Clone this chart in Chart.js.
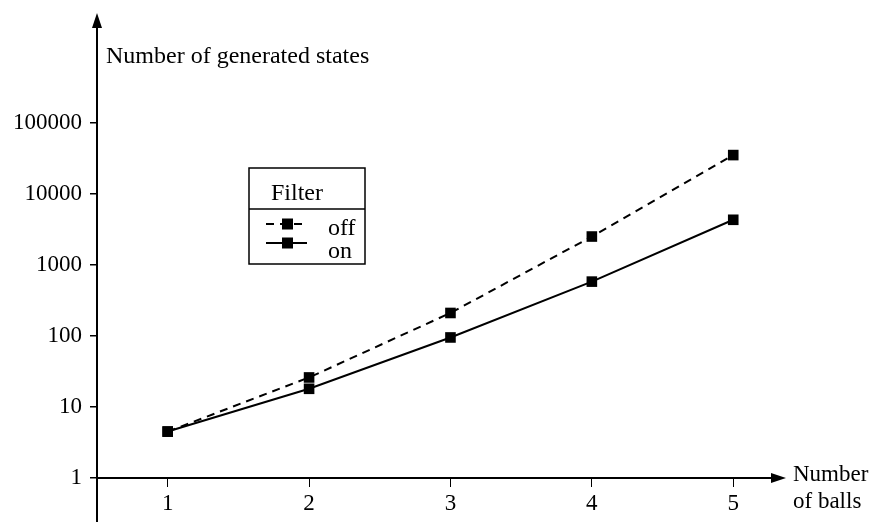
<!DOCTYPE html>
<html>
<head>
<meta charset="utf-8">
<script src="https://cdn.jsdelivr.net/npm/chart.js@4"></script>
<style>
  body { margin: 0; background: #fff; }
  canvas { display: block; }
</style>
</head>
<body>
<canvas id="states" width="875" height="522"></canvas>
<script>
const balls = [1, 2, 3, 4, 5];
const statesOff = [4.5, 26, 210, 2500, 35000];
const statesOn = [4.5, 18, 95, 580, 4300];
const yTicks = [1, 10, 100, 1000, 10000, 100000];
const yTitle = 'Number of generated states';
const xTitle = ['Number', 'of balls'];
const legendTitle = 'Filter';

const serif = '"Liberation Serif", "Times New Roman", serif';
const font = { family: serif, size: 23 };

// arrows, axis extension, titles and the boxed legend
const decor = {
    id: 'decor',
    afterDraw(chart) {
        const ctx = chart.ctx;
        const area = chart.chartArea;
        ctx.save();
        ctx.fillStyle = '#000';
        ctx.strokeStyle = '#000';

        // y axis continues below the x axis
        ctx.lineWidth = 2;
        ctx.beginPath();
        ctx.moveTo(area.left, area.bottom);
        ctx.lineTo(area.left, chart.height);
        ctx.stroke();

        // arrow heads
        ctx.beginPath();
        ctx.moveTo(area.left, area.top - 14);
        ctx.lineTo(area.left - 5, area.top + 1);
        ctx.lineTo(area.left + 5, area.top + 1);
        ctx.closePath();
        ctx.fill();
        ctx.beginPath();
        ctx.moveTo(area.right + 16, area.bottom);
        ctx.lineTo(area.right + 1, area.bottom - 5);
        ctx.lineTo(area.right + 1, area.bottom + 5);
        ctx.closePath();
        ctx.fill();
        ctx.beginPath();
        ctx.moveTo(area.right - 1, area.bottom);
        ctx.lineTo(area.right + 4, area.bottom);
        ctx.stroke();

        // axis titles
        ctx.font = '24px ' + serif;
        ctx.textBaseline = 'alphabetic';
        ctx.textAlign = 'left';
        ctx.fillText(yTitle, area.left + 9, 63);
        ctx.font = '23px ' + serif;
        ctx.fillText(xTitle[0], area.right + 23, 481);
        ctx.fillText(xTitle[1], area.right + 23, 508);

        // legend box
        ctx.font = '24px ' + serif;
        const bx = 249, by = 168, bw = 116, bh = 96;
        ctx.lineWidth = 1.5;
        ctx.strokeRect(bx, by, bw, bh);
        ctx.beginPath();
        ctx.moveTo(bx, by + 41);
        ctx.lineTo(bx + bw, by + 41);
        ctx.stroke();
        ctx.textAlign = 'center';
        ctx.fillText(legendTitle, bx + 48, by + 32);

        const rows = [by + 56, by + 75];
        const labelY = [by + 67, by + 90];
        chart.data.datasets.forEach((ds, i) => {
            const cy = rows[i];
            ctx.lineWidth = ds.borderWidth;
            ctx.setLineDash(ds.borderDash || []);
            ctx.beginPath();
            ctx.moveTo(bx + 17, cy);
            ctx.lineTo(bx + 58, cy);
            ctx.stroke();
            ctx.setLineDash([]);
            ctx.fillRect(bx + 33, cy - 5.5, 11, 11);
            ctx.textAlign = 'left';
            ctx.fillText(ds.label, bx + 79, labelY[i]);
        });
        ctx.restore();
    }
};

new Chart('states', {
    type: 'line',
    data: {
        datasets: [
            {
                label: 'off',
                data: balls.map((b, i) => ({ x: b, y: statesOff[i] })),
                borderColor: '#000',
                borderWidth: 2,
                borderDash: [8, 6],
                pointStyle: 'rect',
                pointRadius: 7.5,
                pointBorderWidth: 0,
                pointBackgroundColor: '#000',
                tension: 0,
            },
            {
                label: 'on',
                data: balls.map((b, i) => ({ x: b, y: statesOn[i] })),
                borderColor: '#000',
                borderWidth: 2,
                pointStyle: 'rect',
                pointRadius: 7.5,
                pointBorderWidth: 0,
                pointBackgroundColor: '#000',
                tension: 0,
            }
        ]
    },
    options: {
        responsive: false,
        animation: false,
        layout: { padding: { top: 27, right: 105, left: 0, bottom: 0 } },
        plugins: {
            legend: { display: false },
            tooltip: { enabled: false },
        },
        scales: {
            x: {
                type: 'linear',
                min: 0.5,
                max: 5.26,
                afterBuildTicks: scale => { scale.ticks = balls.map(v => ({ value: v })); },
                afterFit: scale => { scale.height = 44; },
                grid: { drawOnChartArea: false, tickLength: 9, color: '#000', lineWidth: 1 },
                border: { color: '#000', width: 2 },
                ticks: { font, color: '#000', padding: 3, maxRotation: 0 },
            },
            y: {
                type: 'logarithmic',
                min: 1,
                max: 2220000,
                afterBuildTicks: scale => { scale.ticks = yTicks.map(v => ({ value: v })); },
                afterFit: scale => { scale.width = 97; },
                grid: { drawOnChartArea: false, tickLength: 7, color: '#000', lineWidth: 1.5 },
                border: { color: '#000', width: 2 },
                ticks: { font, color: '#000', padding: 8, callback: v => String(v) },
            }
        }
    },
    plugins: [decor]
});
</script>
</body>
</html>
